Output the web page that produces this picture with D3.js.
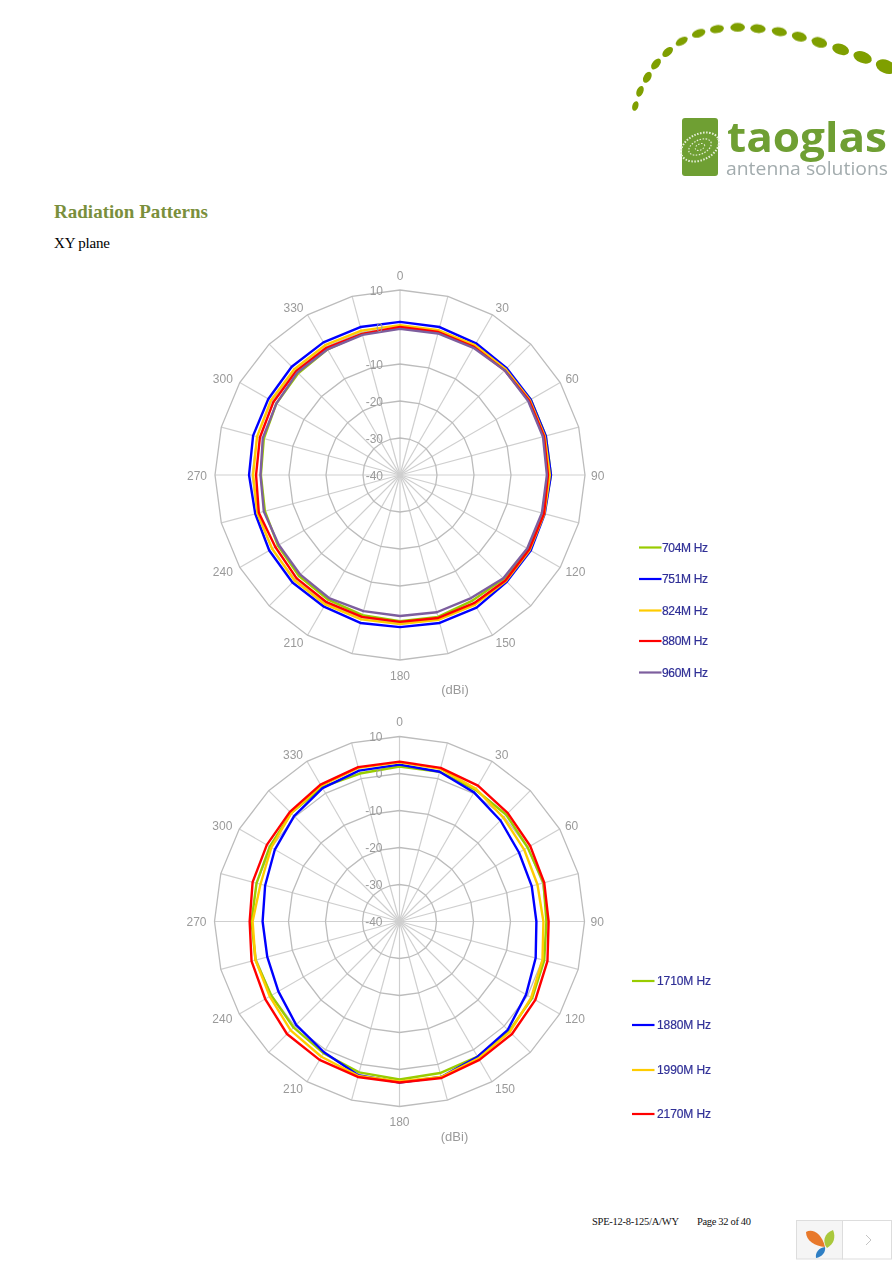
<!DOCTYPE html>
<html>
<head>
<meta charset="utf-8">
<title>Radiation Patterns</title>
<script src="https://cdnjs.cloudflare.com/ajax/libs/d3/7.8.5/d3.min.js"></script>
<style>
  html, body { margin: 0; padding: 0; background: #fff; }
  svg { display: block; }
  .soft { filter: blur(0.35px); }
</style>
</head>
<body>
<div id="chart"></div>
<script>
// angles every 15 degrees, clockwise from the top
const angles = d3.range(0, 360, 15);
const angleLabels = d3.range(0, 360, 30);
const ringTicks = [-30, -20, -10, 0, 10];
const ringLabels = [10, 0, -10, -20, -30, -40];

// low band, dBi
const lowNames = ['704M Hz', '751M Hz', '824M Hz', '880M Hz', '960M Hz'];
const low704 = [-0.3, 0, 0.3, 0.4, 0.8, 0.8, 0.8, 0.3, 0, -0.3, -0.8, -0.3, -0.5, -0.8, -1.1, -1.4, -1.9, -2.2, -2.4, -1.9, -1.4, -1.1, -0.8, -0.5];
const low751 = [1.4, 1.4, 1.1, 0.8, 0.8, 0.8, 0.8, 0.5, 0.8, 0.8, 1.4, 1.4, 1.1, 1.4, 1.1, 1.1, 0.8, 0.5, 0.8, 1.1, 1.1, 1.4, 1.4, 1.4];
const low824 = [0.5, 0.5, 0.5, 0.4, 0.5, 0.5, 0.5, 0.4, 0.5, 0.5, 0.5, 0.5, 0.3, 0.4, 0.4, 0.3, -0.1, -0.1, -0.3, 0, 0.3, 0.4, 0.5, 0.4];
const low880 = [0, 0, 0, 0, 0.3, 0.3, 0, 0.3, 0.3, 0.3, 0, 0, -0.3, -0.3, -0.3, -0.5, -1.1, -0.5, -1.1, -0.8, -0.5, -0.3, -0.3, -0.5];
const low960 = [-0.5, -0.4, -0.3, 0, 0, 0, -0.3, -0.3, -0.3, -0.5, -1.6, -1.6, -1.9, -1.9, -1.6, -1.9, -2.2, -1.9, -2.3, -1.6, -1.4, -0.8, -0.8, -0.8];

// high band, dBi
const highNames = ['1710M Hz', '1880M Hz', '1990M Hz', '2170M Hz'];
const high1710 = [1.9, 1.9, 1.1, 0.8, 0, 0.3, -0.3, 0.5, 1.4, 1.9, 2.2, 2.4, 2.7, 2.2, 1.1, 0.5, 0, 0.3, 0, 0, 0.5, 1.4, 1.9, 1.4];
const high1880 = [2.4, 1.9, 0.3, -1.4, -2.7, -3, -3, -1.9, -0.5, 1.4, 2.2, 3.5, 3.5, 3, 0.8, -0.5, -2.2, -3, -3, -2.4, -1.1, 0.3, 1.6, 2.2];
const high1990 = [3, 2.7, 1.4, -0.3, -1.1, -1.4, -1.1, 0, 1.1, 2.2, 2.7, 3.5, 3.2, 3.2, 2.2, 1.6, 0.5, 0.3, -0.3, -1.1, 0, 1.4, 2.4, 3];
const high2170 = [3.2, 3, 2.4, 1.4, 0.8, 0.5, 0.3, 1.4, 2.4, 3, 3.2, 3.8, 3.5, 3.5, 3.2, 3, 1.9, 1.4, 0.5, 1.1, 1.4, 1.9, 2.7, 3.2];

const lowColors = ['#99cc00', '#0000ff', '#ffcc00', '#ff0000', '#7d5e9e'];
const highColors = ['#99cc00', '#0000ff', '#ffcc00', '#ff0000'];

const svg = d3.select('#chart').append('svg')
  .attr('width', 892)
  .attr('height', 1262);

const r = d3.scaleLinear().domain([-40, 10]).range([0, 185]);
const theta = d3.scaleLinear().domain([0, 360]).range([0, 2 * Math.PI]);
const grey = '#9a9a9a';
const sans = '"Liberation Sans", Arial, sans-serif';
const serif = '"Liberation Serif", "Times New Roman", serif';

function polar(cx, cy, series, colors, names, legend) {
  const g = svg.append('g')
    .attr('class', 'soft')
    .attr('transform', `translate(${cx},${cy})`);

  const ring = d3.lineRadial()
    .angle(d => theta(d))
    .curve(d3.curveLinearClosed);

  g.selectAll('.spoke').data(angles).enter().append('line')
    .attr('class', 'spoke')
    .attr('x2', d => Math.sin(theta(d)) * r(10))
    .attr('y2', d => -Math.cos(theta(d)) * r(10))
    .attr('stroke', '#cfcfcf')
    .attr('stroke-width', 1.2);

  g.selectAll('.ring').data(ringTicks).enter().append('path')
    .attr('class', 'ring')
    .attr('d', t => ring.radius(r(t))(angles))
    .attr('fill', 'none')
    .attr('stroke', '#bcbcbc')
    .attr('stroke-width', 1.3);

  const trace = d3.lineRadial()
    .angle((d, i) => theta(angles[i]))
    .radius(d => r(d))
    .curve(d3.curveLinearClosed);

  g.selectAll('.trace').data(series).enter().append('path')
    .attr('class', 'trace')
    .attr('d', d => trace(d))
    .attr('fill', 'none')
    .attr('stroke', (d, i) => colors[i])
    .attr('stroke-width', 2.4)
    .attr('stroke-linejoin', 'round');

  g.selectAll('.ringlabel').data(ringLabels).enter().append('text')
    .attr('class', 'ringlabel')
    .attr('x', -17)
    .attr('y', t => -r(t) + 4.5)
    .attr('text-anchor', 'end')
    .attr('font-family', sans)
    .attr('font-size', 12)
    .attr('fill', grey)
    .text(t => t);

  // side labels hang off the ring by their near edge, 0 and 180 sit centred
  g.selectAll('.anglelabel').data(angleLabels).enter().append('text')
    .attr('class', 'anglelabel')
    .attr('x', d => Math.sin(theta(d)) * (d > 180 ? 193 : 191))
    .attr('y', d => -Math.cos(theta(d)) * (d % 180 === 0 ? 200 : 193) + 4.5)
    .attr('text-anchor', d => d % 180 === 0 ? 'middle' : d < 180 ? 'start' : 'end')
    .attr('font-family', sans)
    .attr('font-size', 12)
    .attr('fill', grey)
    .text(d => d);

  g.append('text')
    .attr('x', 55)
    .attr('y', 219)
    .attr('text-anchor', 'middle')
    .attr('font-family', sans)
    .attr('font-size', 13)
    .attr('fill', grey)
    .text('(dBi)');

  const key = svg.append('g').attr('class', 'soft');
  names.forEach((name, i) => {
    const y = legend.y[i];
    key.append('line')
      .attr('x1', legend.x)
      .attr('x2', legend.x + 22.5)
      .attr('y1', y)
      .attr('y2', y)
      .attr('stroke', colors[i])
      .attr('stroke-width', 2.2);
    key.append('text')
      .attr('x', legend.x + legend.gap)
      .attr('y', y + 4)
      .attr('font-family', sans)
      .attr('font-size', 12)
      .attr('fill', '#2f2f96')
      .attr('stroke', '#2f2f96')
      .attr('stroke-width', 0.2)
      .attr('textLength', legend.width)
      .attr('lengthAdjust', 'spacing')
      .text(name);
  });
}

polar(400, 475, [low704, low751, low824, low880, low960], lowColors, lowNames,
  { x: 639, gap: 23, width: 46, y: [547.5, 579, 610.5, 641, 672.5] });
polar(399.5, 921.5, [high1710, high1880, high1990, high2170], highColors, highNames,
  { x: 632, gap: 25, width: 54, y: [981, 1025, 1070, 1114] });

// page text
svg.append('text')
  .attr('x', 54).attr('y', 218)
  .attr('font-family', serif).attr('font-weight', 'bold').attr('font-size', 19)
  .attr('fill', '#7a8f3c')
  .attr('textLength', 154).attr('lengthAdjust', 'spacing')
  .text('Radiation Patterns');
svg.append('text')
  .attr('x', 54).attr('y', 248)
  .attr('font-family', serif).attr('font-size', 15)
  .attr('fill', '#000')
  .attr('textLength', 56).attr('lengthAdjust', 'spacing')
  .text('XY plane');
svg.append('text')
  .attr('x', 592).attr('y', 1225)
  .attr('font-family', serif).attr('font-size', 10.5)
  .attr('fill', '#111')
  .attr('textLength', 87).attr('lengthAdjust', 'spacing')
  .text('SPE-12-8-125/A/WY');
svg.append('text')
  .attr('x', 697).attr('y', 1225)
  .attr('font-family', serif).attr('font-size', 10.5)
  .attr('fill', '#111')
  .attr('textLength', 54).attr('lengthAdjust', 'spacing')
  .text('Page 32 of 40');

// logo
const swooshX = [46, 60, 82, 108, 143, 185, 236, 291, 353, 414, 478, 538, 598, 662, 728, 798];
const swooshY = [288, 244, 202, 162, 126, 94, 70, 57, 52, 56, 65, 80, 97, 118, 142, 170];
const swooshRx = [15, 17, 18, 19, 19, 20, 21, 21, 22, 23, 23, 23, 24, 26, 29, 32];
const swooshRy = [9, 10, 11, 11, 11, 11, 12, 12, 13, 13, 13, 14, 15, 16, 17, 20];

const logo = svg.append('g').attr('class', 'soft');
const swoosh = logo.append('g').attr('transform', 'translate(620,10) scale(0.3333)');
swooshX.forEach((x, i) => {
  const a = swooshX[Math.max(i - 1, 0)], b = swooshX[Math.min(i + 1, swooshX.length - 1)];
  const c = swooshY[Math.max(i - 1, 0)], e = swooshY[Math.min(i + 1, swooshX.length - 1)];
  const rot = Math.atan2(e - c, b - a) * 180 / Math.PI;
  swoosh.append('ellipse')
    .attr('rx', swooshRx[i])
    .attr('ry', swooshRy[i])
    .attr('transform', `translate(${x},${swooshY[i]}) rotate(${rot})`)
    .attr('fill', '#7f9f00');
});

logo.append('rect')
  .attr('x', 682).attr('y', 118).attr('width', 36).attr('height', 58).attr('rx', 3)
  .attr('fill', '#6f9f33');
[[20, 13, 2], [12, 7, 1.2], [5, 3, 1]].forEach(d => {
  logo.append('ellipse')
    .attr('transform', 'translate(700,147) rotate(-25)')
    .attr('rx', d[0]).attr('ry', d[1])
    .attr('fill', 'none')
    .attr('stroke', '#e6efd8')
    .attr('stroke-width', d[2])
    .attr('stroke-dasharray', '1.5 1.5');
});
logo.append('text')
  .attr('x', 727).attr('y', 152)
  .attr('font-family', '"Open Sans", sans-serif').attr('font-weight', 'bold').attr('font-size', 42)
  .attr('fill', '#6f9f33')
  .attr('textLength', 160).attr('lengthAdjust', 'spacingAndGlyphs')
  .text('taoglas');
logo.append('text')
  .attr('x', 726).attr('y', 175)
  .attr('font-family', '"Open Sans", sans-serif').attr('font-size', 19)
  .attr('fill', '#a3acae')
  .attr('textLength', 162).attr('lengthAdjust', 'spacingAndGlyphs')
  .text('antenna solutions');

// corner widget
const corner = svg.append('g');
corner.append('rect')
  .attr('x', 796.5).attr('y', 1220.5).attr('width', 46).attr('height', 38.5)
  .attr('fill', '#f5f5f5').attr('stroke', '#ddd');
corner.append('rect')
  .attr('x', 842.5).attr('y', 1220.5).attr('width', 49).attr('height', 38.5)
  .attr('fill', '#fff').attr('stroke', '#ddd');
corner.append('path')
  .attr('d', 'M806,1232 C812,1228 822,1233 825,1247 C815,1246 806,1241 806,1232Z')
  .attr('fill', '#e8792b');
corner.append('path')
  .attr('d', 'M833,1230 C836,1237 834,1244 827,1248 C822,1242 824,1233 833,1230Z')
  .attr('fill', '#a9c83c');
corner.append('path')
  .attr('d', 'M825,1247 C826,1252 822,1257 816,1258 C815,1252 819,1248 825,1247Z')
  .attr('fill', '#2f7fc4');
corner.append('path')
  .attr('d', 'M866,1235 L871,1240 L866,1245')
  .attr('fill', 'none').attr('stroke', '#c4c4c4').attr('stroke-width', 1);
</script>
</body>
</html>
